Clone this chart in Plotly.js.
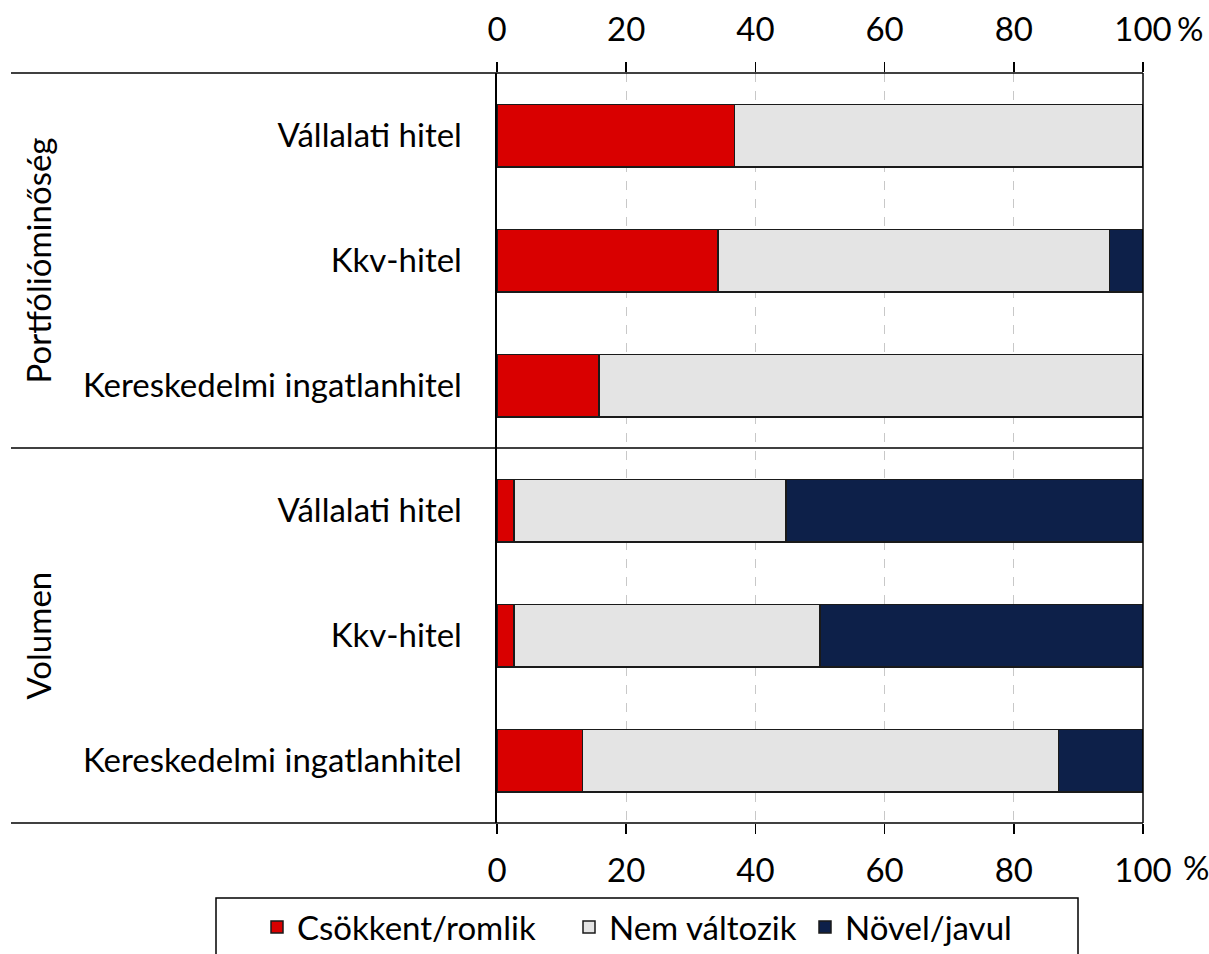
<!DOCTYPE html>
<html>
<head>
<meta charset="utf-8">
<script src="https://cdn.plot.ly/plotly-3.0.1.min.js"></script>
<style>html,body{margin:0;padding:0;background:#fff;}#chart{width:1209px;height:954px;}</style>
</head>
<body>
<div id="chart"></div>
<script>
const groups = ["Portfólióminőség", "Volumen"];
const categories = ["Vállalati hitel", "Kkv-hitel", "Kereskedelmi ingatlanhitel"];
const seriesNames = ["Csökkent/romlik", "Nem változik", "Növel/javul"];
const seriesColors = ["#D90000", "#E4E4E4", "#0D2049"];
// rows in order: group 1 (3 categories), group 2 (3 categories)
const decreased = [36.8, 34.2, 15.8, 2.6, 2.6, 13.2];
const unchanged = [63.2, 60.6, 84.2, 42.1, 47.4, 73.7];
const increased = [0.0, 5.2, 0.0, 55.3, 50.0, 13.1];
const xTicks = [0, 20, 40, 60, 80, 100];

const rowLabels = [];
groups.forEach(g => categories.forEach(c => rowLabels.push(c)));
const rowPos = rowLabels.map((_, i) => i);
const values = [decreased, unchanged, increased];

const FONT = "Lato, 'Open Sans', sans-serif";
const FS = 33;
const legendIds = ["legend", "legend2", "legend3"];
const traces = values.map((v, si) => ({
  type: "bar",
  orientation: "h",
  name: seriesNames[si],
  x: v,
  y: rowPos,
  width: 0.5,
  legend: legendIds[si],
  marker: { color: seriesColors[si], line: { color: "#1a1a1a", width: 1.5 } },
  hoverinfo: "x+name"
}));
traces.push({ type: "scatter", x: [0, 100], y: [0, 0], xaxis: "x2", mode: "none", showlegend: false, hoverinfo: "skip" });

const nRows = rowLabels.length;
const px2x = p => (p - 497) / 646;
const px2y = p => (823 - p) / 750;
const leftPaper = px2x(11);
const shapes = [
  { type: "line", xref: "paper", yref: "paper", x0: leftPaper, x1: 1, y0: 1, y1: 1, line: { color: "#000", width: 1.5 } },
  { type: "line", xref: "paper", yref: "paper", x0: leftPaper, x1: 1, y0: 0, y1: 0, line: { color: "#000", width: 1.5 } },
  { type: "line", xref: "paper", yref: "y", x0: leftPaper, x1: 1, y0: categories.length - 0.5, y1: categories.length - 0.5, line: { color: "#000", width: 1.5 } },
  { type: "line", xref: "paper", yref: "paper", x0: 1, x1: 1, y0: 0, y1: 1, line: { color: "#000", width: 1.5 } },
  // legend frame
  { type: "rect", xref: "paper", yref: "paper", x0: px2x(216), x1: px2x(1078), y0: px2y(898), y1: px2y(970), line: { color: "#000", width: 1.5 }, fillcolor: "rgba(0,0,0,0)" }
];

const annotations = groups.map((g, gi) => ({
  text: g, xref: "paper", yref: "paper", x: px2x(37),
  y: 1 - (gi + 0.5) / groups.length, textangle: -90, showarrow: false,
  font: { family: FONT, size: FS, color: "#000" }, xanchor: "center", yanchor: "middle"
}));
annotations.push({ text: "%", xref: "paper", yref: "paper", x: px2x(1181), y: px2y(867), xanchor: "left", yanchor: "middle", showarrow: false, font: { family: FONT, size: FS, color: "#000" } });
annotations.push({ text: "%", xref: "paper", yref: "paper", x: px2x(1175), y: px2y(28), xanchor: "left", yanchor: "middle", showarrow: false, font: { family: FONT, size: FS, color: "#000" } });

const legendBase = {
  orientation: "h", xanchor: "left", y: px2y(899), yanchor: "top",
  borderwidth: 0, bgcolor: "rgba(0,0,0,0)",
  font: { family: FONT, size: FS, color: "#000" }, itemwidth: 30
};
const legendLeftPx = [257, 569, 805];

const layout = {
  width: 1209, height: 954,
  margin: { l: 497, r: 66, t: 73, b: 131, autoexpand: false },
  paper_bgcolor: "#fff", plot_bgcolor: "#fff",
  barmode: "stack",
  showlegend: true,
  font: { family: FONT, size: FS, color: "#000" },
  xaxis: {
    range: [0, 100], tickvals: xTicks, ticktext: xTicks.map(String),
    showgrid: true, gridcolor: "#c8c8c8", griddash: "dash", gridwidth: 1,
    zeroline: false, showline: false, ticks: "outside", ticklen: 10, tickcolor: "#000", tickwidth: 1.5,
    ticklabelstandoff: 8,
    tickfont: { family: FONT, size: FS, color: "#000" }, fixedrange: true, automargin: false
  },
  xaxis2: {
    overlaying: "x", side: "top", matches: "x", range: [0, 100], tickvals: xTicks, ticktext: xTicks.map(String),
    showgrid: false, zeroline: false, showline: false, ticks: "outside", ticklen: 10, tickcolor: "#000", tickwidth: 1.5,
    ticklabelstandoff: 8,
    tickfont: { family: FONT, size: FS, color: "#000" }, automargin: false
  },
  yaxis: {
    range: [nRows - 0.5, -0.5], tickvals: rowPos, ticktext: rowLabels,
    showgrid: false, zeroline: false, showline: true, linecolor: "#000", linewidth: 2.5,
    ticks: "outside", ticklen: 26, tickcolor: "rgba(0,0,0,0)",
    tickfont: { family: FONT, size: FS, color: "#000" }, fixedrange: true, automargin: false
  },
  shapes: shapes,
  annotations: annotations
};
legendIds.forEach((id, i) => {
  layout[id] = Object.assign({}, legendBase, { x: px2x(legendLeftPx[i]) });
});

Plotly.newPlot("chart", traces, layout, { displayModeBar: false, staticPlot: true });
</script>
</body>
</html>
